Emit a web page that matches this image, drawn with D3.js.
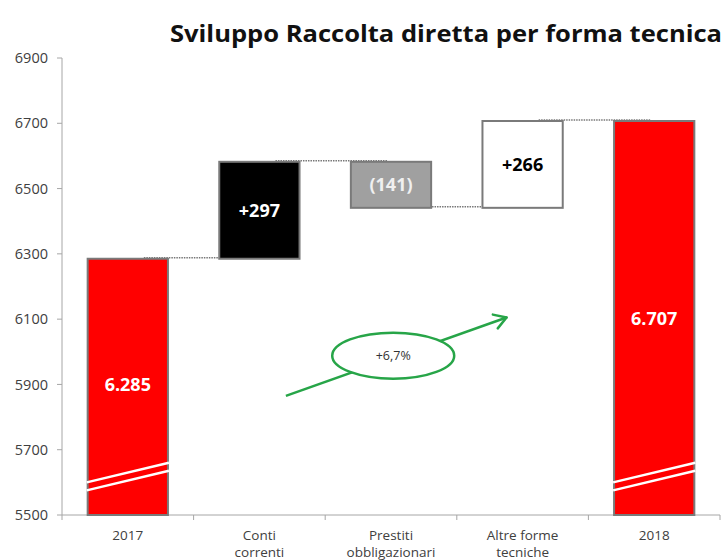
<!DOCTYPE html>
<html>
<head>
<meta charset="utf-8">
<script src="https://cdn.jsdelivr.net/npm/d3@7"></script>
<style>
  body { margin: 0; background: #fff; }
  text { font-family: "Open Sans", sans-serif; }
</style>
</head>
<body>
<script>
// data
const categories = ["2017", "Conti correnti", "Prestiti obbligazionari", "Altre forme tecniche", "2018"];
const axisLabels = [["2017"], ["Conti", "correnti"], ["Prestiti", "obbligazionari"], ["Altre forme", "tecniche"], ["2018"]];
const barStart = [5500, 6285, 6582, 6441, 5500];
const barEnd = [6285, 6582, 6441, 6707, 6707];
const barLabels = ["6.285", "+297", "(141)", "+266", "6.707"];
const yTicks = [5500, 5700, 5900, 6100, 6300, 6500, 6700, 6900];
const growthLabel = "+6,7%";

const fills = ["#ff0000", "#000000", "#a0a0a0", "#ffffff", "#ff0000"];
const labelColors = ["#ffffff", "#ffffff", "#f0f0f0", "#000000", "#ffffff"];

const width = 727, height = 560;
const margin = {top: 58, right: 7, bottom: 45, left: 62};

const svg = d3.select("body").append("svg")
    .attr("width", width)
    .attr("height", height);

const x = d3.scaleBand()
    .domain(categories)
    .range([margin.left, width - margin.right])
    .paddingInner(0.39)
    .paddingOuter(0.195);

const y = d3.scaleLinear()
    .domain([5500, 6900])
    .range([height - margin.bottom, margin.top]);

const step = x.step();
const bw = x.bandwidth();

// title
svg.append("text")
    .attr("x", 170)
    .attr("y", 42)
    .attr("font-size", 24)
    .attr("font-weight", "bold")
    .attr("fill", "#111")
    .attr("textLength", 552)
    .attr("lengthAdjust", "spacingAndGlyphs")
    .text("Sviluppo Raccolta diretta per forma tecnica");

// y axis
svg.append("line")
    .attr("x1", margin.left).attr("x2", margin.left)
    .attr("y1", y(6900)).attr("y2", y(5500))
    .attr("stroke", "#a6a6a6");

const yt = svg.append("g").selectAll("g").data(yTicks).join("g")
    .attr("transform", d => `translate(0,${y(d)})`);
yt.append("line")
    .attr("x1", margin.left - 5).attr("x2", margin.left)
    .attr("stroke", "#a6a6a6");
yt.append("text")
    .attr("x", margin.left - 14)
    .attr("dy", "0.35em")
    .attr("text-anchor", "end")
    .attr("font-size", 14.5)
    .attr("fill", "#404040")
    .text(d => d);

// x axis
const x0 = margin.left, x1 = x0 + step * categories.length;
svg.append("line")
    .attr("x1", x0).attr("x2", x1)
    .attr("y1", y(5500)).attr("y2", y(5500))
    .attr("stroke", "#a6a6a6");
svg.append("g").selectAll("line").data(d3.range(categories.length + 1)).join("line")
    .attr("x1", i => x0 + i * step).attr("x2", i => x0 + i * step)
    .attr("y1", y(5500)).attr("y2", y(5500) + 5)
    .attr("stroke", "#a6a6a6");

svg.append("g").selectAll("text").data(categories).join("text")
    .attr("x", d => x(d) + bw / 2)
    .attr("y", y(5500) + 25)
    .attr("text-anchor", "middle")
    .attr("font-size", 13.5)
    .attr("fill", "#404040")
    .each(function(d, i) {
        d3.select(this).selectAll("tspan").data(axisLabels[i]).join("tspan")
            .attr("x", x(d) + bw / 2)
            .attr("dy", (t, j) => j === 0 ? 0 : 17)
            .text(t => t);
    });

// connectors
const conn = svg.append("g");
for (let i = 0; i < categories.length - 1; i++) {
    conn.append("line")
        .attr("x1", x(categories[i]) + bw * 0.7)
        .attr("x2", x(categories[i + 1]) + bw * 0.45)
        .attr("y1", y(barEnd[i]) - 1)
        .attr("y2", y(barEnd[i]) - 1)
        .attr("stroke", "#777")
        .attr("stroke-width", 1.5)
        .attr("stroke-dasharray", "1.5,1");
}

// bars
svg.append("g").selectAll("rect").data(categories).join("rect")
    .attr("x", d => x(d))
    .attr("width", bw)
    .attr("y", (d, i) => y(Math.max(barStart[i], barEnd[i])))
    .attr("height", (d, i) => Math.abs(y(barStart[i]) - y(barEnd[i])))
    .attr("fill", (d, i) => fills[i])
    .attr("stroke", "#7a7a7a")
    .attr("stroke-width", 2);

// break marks on total bars
[0, 4].forEach(i => {
    const bx = x(categories[i]);
    [0, 8].forEach(off => {
        svg.append("line")
            .attr("x1", bx - 1).attr("x2", bx + bw + 1)
            .attr("y1", y(5600) + off).attr("y2", y(5660) + off)
            .attr("stroke", "#fff")
            .attr("stroke-width", 2.5);
    });
});

// bar labels
const labelY = [5900, null, null, null, 6100];
svg.append("g").selectAll("text").data(categories).join("text")
    .attr("x", d => x(d) + bw / 2)
    .attr("y", (d, i) => y(labelY[i] != null ? labelY[i] : (barStart[i] + barEnd[i]) / 2))
    .attr("dy", "0.35em")
    .attr("text-anchor", "middle")
    .attr("font-size", 18)
    .attr("font-weight", "bold")
    .attr("fill", (d, i) => labelColors[i])
    .text((d, i) => barLabels[i]);

// growth arrow
const green = "#27a548";
const ax1 = x(categories[1]) + bw * 0.83, ay1 = y(5865);
const ax2 = x(categories[3]) + bw * 0.3, ay2 = y(6105);
svg.append("line")
    .attr("x1", ax1).attr("y1", ay1)
    .attr("x2", ax2).attr("y2", ay2)
    .attr("stroke", green)
    .attr("stroke-width", 2.5);
const ang = Math.atan2(ay2 - ay1, ax2 - ax1);
const hl = 14;
[0.55, -0.55].forEach(a => {
    svg.append("line")
        .attr("x1", ax2).attr("y1", ay2)
        .attr("x2", ax2 - hl * Math.cos(ang + a))
        .attr("y2", ay2 - hl * Math.sin(ang + a))
        .attr("stroke", green)
        .attr("stroke-width", 2.5)
        .attr("stroke-linecap", "round");
});
const ecx = (ax1 + ax2) / 2 - 3, ecy = (ay1 + ay2) / 2 - 1;
svg.append("ellipse")
    .attr("cx", ecx).attr("cy", ecy)
    .attr("rx", 61).attr("ry", 23)
    .attr("fill", "#fff")
    .attr("stroke", green)
    .attr("stroke-width", 2.5);
svg.append("text")
    .attr("x", ecx).attr("y", ecy)
    .attr("dy", "0.35em")
    .attr("text-anchor", "middle")
    .attr("font-size", 12.5)
    .attr("fill", "#333")
    .text(growthLabel);
</script>
</body>
</html>
